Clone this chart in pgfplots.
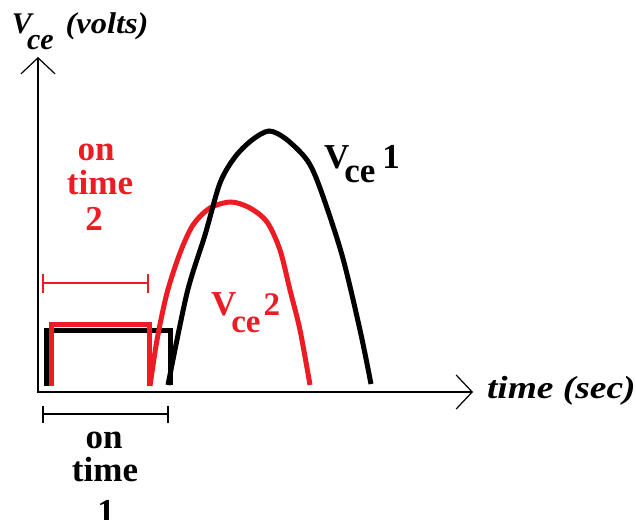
\documentclass[border=0pt]{standalone}
\usepackage{pgfplots}
\pgfplotsset{compat=1.18}
\usepackage{graphicx}
\usepackage{fontspec}
\setmainfont{Liberation Serif}
\usetikzlibrary{arrows.meta}
\definecolor{pred}{HTML}{ED1C24}
\begin{document}
\begin{tikzpicture}
\useasboundingbox (0,0) rectangle (636pt,519pt);
\begin{axis}[at={(0,0)}, anchor=south west,
  scale only axis, width=636pt, height=519pt,
  xmin=0, xmax=636, ymin=0, ymax=519, y dir=reverse,
  hide axis, clip=false, enlargelimits=false]
% axes
\addplot[black, line width=1.3pt, -{Straight Barb[length=16pt,width=34pt,line width=1.2pt]}] coordinates {(38,393) (38,57)};
\addplot[black, line width=1.3pt, -{Straight Barb[length=16pt,width=34pt,line width=1.2pt]}] coordinates {(37,392) (473,392)};
% pulses
\addplot[black, line width=5pt, line join=miter] coordinates {(46,386) (46,330) (170,330) (170,385)};
\addplot[pred, line width=5pt, line join=miter] coordinates {(51,386) (51,324) (149,324) (149,386)};
% red peak
\addplot[pred, line width=5pt, smooth, tension=0.5] coordinates {
(150,386) (157,340) (167,293) (180,253) (193,225) (210,208) (231,202) (250,208) (267,222) (280,250) (290,290) (300,330) (310,385)};
% black peak
\addplot[black, line width=5pt, smooth, tension=0.5] coordinates {
(168,385) (187,293) (205,235) (220,183) (235,157) (252,140) (269,131) (286,139) (307,160) (320,188) (342,255) (360,330) (371,384)};
% brackets
\addplot[pred, line width=1.6pt] coordinates {(43,283) (148,283)};
\addplot[pred, line width=1.6pt] coordinates {(43,274) (43,293)};
\addplot[pred, line width=1.6pt] coordinates {(148,274) (148,293)};
\addplot[black, line width=1.8pt] coordinates {(43,414) (168,414)};
\addplot[black, line width=1.8pt] coordinates {(43,406) (43,423)};
\addplot[black, line width=1.8pt] coordinates {(168,406) (168,423)};
% texts
\begin{scope}[every node/.style={inner sep=0pt, outer sep=0pt}]
\node[anchor=base west] at (axis cs:12,34) {\fontsize{30}{30}\selectfont\bfseries\itshape V\kern-5pt\raisebox{-16pt}{ce}\kern12pt\scalebox{1.08}[1]{(volts)}};
\node[anchor=base west] at (axis cs:487,398) {\scalebox{1.17}[1]{\fontsize{32}{32}\selectfont\bfseries\itshape time (sec)}};
% on time 2
\node[anchor=base, text=pred] at (axis cs:96,160) {\fontsize{35}{35}\selectfont\bfseries on};
\node[anchor=base, text=pred] at (axis cs:100,194) {\fontsize{35}{35}\selectfont\bfseries time};
\node[anchor=base, text=pred] at (axis cs:94,230) {\fontsize{35}{35}\selectfont\bfseries 2};
% on time 1
\node[anchor=base] at (axis cs:104,448) {\fontsize{35}{35}\selectfont\bfseries on};
\node[anchor=base] at (axis cs:105,481) {\fontsize{35}{35}\selectfont\bfseries time};
\node[anchor=base] at (axis cs:106,523) {\fontsize{35}{35}\selectfont\bfseries 1};
% Vce1
\node[anchor=base west] at (axis cs:324,168) {\fontsize{35}{35}\selectfont\bfseries V\kern-5pt\raisebox{-14pt}{ce}\kern7pt 1};
% Vce2
\node[anchor=base west, text=pred] at (axis cs:211,315) {\fontsize{35}{35}\selectfont\bfseries V\kern-5pt\raisebox{-17pt}{\fontsize{33}{33}\selectfont ce}\kern3pt{\fontsize{33}{33}\selectfont 2}};
\end{scope}
\end{axis}
\end{tikzpicture}
\end{document}
